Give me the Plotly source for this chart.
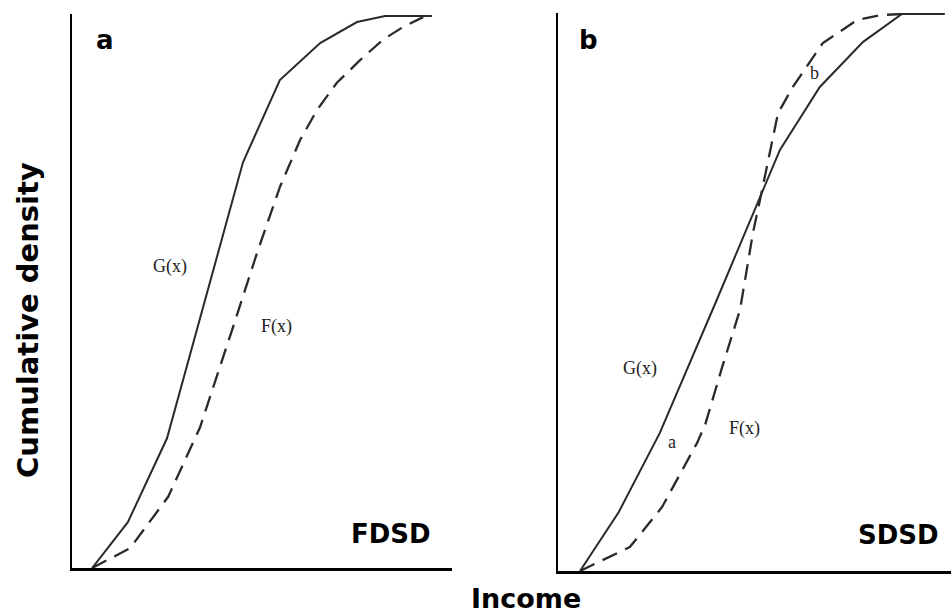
import plotly.graph_objects as go

# Panel a (FDSD)
a_G_x = [0.53, 1.47, 2.5, 4.5, 5.47, 6.53, 7.5, 8.24, 9.47]
a_G_y = [0.0, 0.083, 0.235, 0.735, 0.884, 0.951, 0.989, 1.0, 1.0]
a_F_x = [0.53, 1.53, 2.53, 3.37, 4.24, 4.87, 5.47, 6.0, 6.45, 6.97, 7.58, 8.18, 8.71, 9.24]
a_F_y = [0.0, 0.036, 0.129, 0.255, 0.437, 0.571, 0.69, 0.775, 0.83, 0.879, 0.92, 0.957, 0.98, 0.998]

# Panel b (SDSD)
b_G_x = [0.58, 1.6, 2.68, 4.18, 5.84, 6.89, 8.03, 9.05, 10.18]
b_G_y = [0.0, 0.106, 0.248, 0.487, 0.756, 0.869, 0.95, 1.0, 1.0]
b_F_x = [0.58, 1.89, 2.74, 3.66, 3.87, 4.32, 4.79, 5.13, 5.37, 5.79, 6.18, 6.97, 7.87, 8.47, 9.05]
b_F_y = [0.0, 0.043, 0.115, 0.23, 0.262, 0.366, 0.469, 0.607, 0.684, 0.822, 0.869, 0.948, 0.989, 0.998, 1.0]

line_col = "#2a2a2a"
solid = dict(color=line_col, width=2)
dashed = dict(color=line_col, width=2.3, dash="16px,9px")

fig = go.Figure()
fig.add_trace(go.Scatter(x=a_G_x, y=a_G_y, mode="lines", line=solid, xaxis="x", yaxis="y", hoverinfo="skip"))
fig.add_trace(go.Scatter(x=a_F_x, y=a_F_y, mode="lines", line=dashed, xaxis="x", yaxis="y", hoverinfo="skip"))
fig.add_trace(go.Scatter(x=b_G_x, y=b_G_y, mode="lines", line=solid, xaxis="x2", yaxis="y2", hoverinfo="skip"))
fig.add_trace(go.Scatter(x=b_F_x, y=b_F_y, mode="lines", line=dashed, xaxis="x2", yaxis="y2", hoverinfo="skip"))

W, H = 951, 613
ax_common = dict(showgrid=False, zeroline=False, showticklabels=False, ticks="", fixedrange=True)

fig.update_layout(
    width=W, height=H,
    margin=dict(l=0, r=0, t=0, b=0),
    paper_bgcolor="white", plot_bgcolor="white",
    showlegend=False,
    hovermode=False,
    xaxis=dict(domain=[72 / W, 452 / W], range=[0, 10], anchor="y",
               showline=True, linecolor="black", linewidth=3, **ax_common),
    yaxis=dict(domain=[1 - 568 / H, 1 - 14 / H], range=[0, 554 / 552], anchor="x",
               showline=True, linecolor="black", linewidth=2.2, **ax_common),
    xaxis2=dict(domain=[558 / W, 1.0], range=[0, 393 / 38], anchor="y2",
                showline=True, linecolor="black", linewidth=3, **ax_common),
    yaxis2=dict(domain=[1 - 571 / H, 1 - 13 / H], range=[0, 558 / 557], anchor="x2",
                showline=True, linecolor="black", linewidth=2.5, **ax_common),
)

bold = dict(family="DejaVu Sans", size=26, color="black", weight="bold")
serif = dict(family="Liberation Serif", size=18, color="#222222")

anns = [
    dict(text="a", x=0.87, y=0.957, xref="x", yref="y", font=bold),
    dict(text="G(x)", x=2.58, y=0.547, xref="x", yref="y", font=serif),
    dict(text="F(x)", x=5.39, y=0.437, xref="x", yref="y", font=serif),
    dict(text="FDSD", x=8.39, y=0.062, xref="x", yref="y", font=bold),
    dict(text="b", x=0.79, y=0.953, xref="x2", yref="y2", font=bold),
    dict(text="G(x)", x=2.16, y=0.363, xref="x2", yref="y2", font=serif),
    dict(text="F(x)", x=4.92, y=0.255, xref="x2", yref="y2", font=serif),
    dict(text="a", x=3.0, y=0.232, xref="x2", yref="y2", font=serif),
    dict(text="b", x=6.74, y=0.894, xref="x2", yref="y2", font=serif),
    dict(text="SDSD", x=8.97, y=0.065, xref="x2", yref="y2", font=bold),
    dict(text="Cumulative density", x=28 / W, y=1 - 320 / H, xref="paper", yref="paper",
         textangle=-90, font=dict(family="DejaVu Sans", size=29, color="black", weight="bold")),
    dict(text="Income", x=526 / W, y=1 - 598 / H, xref="paper", yref="paper",
         font=dict(family="DejaVu Sans", size=27, color="black", weight="bold")),
]
for a in anns:
    a.update(showarrow=False, xanchor="center", yanchor="middle")
fig.update_layout(annotations=anns)

fig.write_html(
    "out.html",
    config={"displayModeBar": False, "staticPlot": True},
    post_script="document.body.style.margin='0';document.body.style.overflow='hidden';",
)
